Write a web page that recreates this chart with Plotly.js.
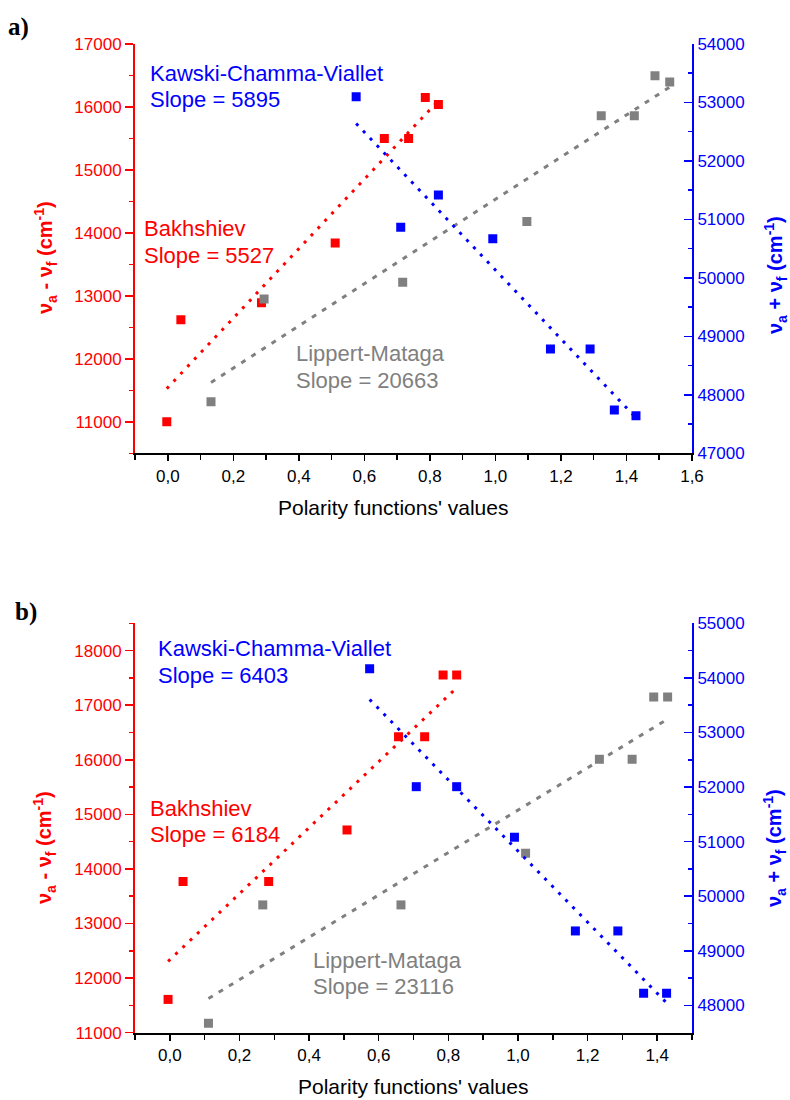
<!DOCTYPE html>
<html>
<head>
<meta charset="utf-8">
<script src="https://cdn.plot.ly/plotly-3.0.1.min.js"></script>
<style>html,body{margin:0;padding:0;background:#fff;}</style>
</head>
<body>
<div id="chart" style="width:790px;height:1100px;"></div>
<script>
// ---------- Data: panel a ----------
const aBakhshievX = [-0.003, 0.040, 0.286, 0.511, 0.661, 0.735, 0.786, 0.826];
const aBakhshievY = [11000, 12620, 12890, 13840, 15500, 15500, 16150, 16040];
const aLippertX   = [0.132, 0.294, 0.717, 1.096, 1.323, 1.424, 1.487, 1.532];
const aLippertY   = [11317, 12952, 13216, 14180, 15862, 15862, 16497, 16397];
const aKawskiX    = [0.575, 0.711, 0.826, 0.992, 1.168, 1.289, 1.363, 1.429];
const aKawskiY    = [53099, 50865, 51417, 50670, 48784, 48784, 47740, 47643];
const aSlopes     = {kawski: 5895, bakhshiev: 5527, lippert: 20663};

// ---------- Data: panel b ----------
const bBakhshievX = [-0.005, 0.038, 0.284, 0.509, 0.657, 0.732, 0.785, 0.824];
const bBakhshievY = [11610, 13770, 13770, 14714, 16423, 16423, 17553, 17553];
const bLippertX   = [0.111, 0.267, 0.664, 1.022, 1.234, 1.328, 1.390, 1.430];
const bLippertY   = [11174, 13341, 13341, 14288, 16009, 16009, 17150, 17150];
const bKawskiX    = [0.574, 0.708, 0.824, 0.990, 1.165, 1.287, 1.361, 1.427];
const bKawskiY    = [54169, 52007, 52007, 51081, 49364, 49364, 48223, 48223];
const bSlopes     = {kawski: 6403, bakhshiev: 6184, lippert: 23116};

const xTitle = "Polarity functions' values";
const leftTitle = "<b>ν<sub>a</sub> - ν<sub>f</sub> (cm<sup>-1</sup>)</b>";
const rightTitle = "<b>ν<sub>a</sub> + ν<sub>f</sub> (cm<sup>-1</sup>)</b>";

// ---------- Styles ----------
const RED = '#ff0000', BLUE = '#0000ff', GRAY = '#808080';
const FONT = 'Liberation Sans, Arial, sans-serif';
const SERIF = 'Liberation Serif, Times New Roman, serif';
const W = 790, H = 1100, ML = 135, MR = 98;
const PW = W - ML - MR;
const px = v => (v - ML) / PW;       // page pixel -> paper x
const py = v => 1 - v / H;           // page pixel -> paper y (t = b = 0)

function linFit(xs, ys) {
  const n = xs.length;
  const mx = xs.reduce((s, v) => s + v, 0) / n;
  const my = ys.reduce((s, v) => s + v, 0) / n;
  let sxy = 0, sxx = 0;
  for (let i = 0; i < n; i++) { sxy += (xs[i] - mx) * (ys[i] - my); sxx += (xs[i] - mx) ** 2; }
  const k = sxy / sxx, b = my - k * mx;
  const x0 = Math.min(...xs), x1 = Math.max(...xs);
  return {x: [x0, x1], y: [k * x0 + b, k * x1 + b]};
}

function pts(x, y, color, xa, ya, name) {
  return {type: 'scatter', mode: 'markers', x, y, xaxis: xa, yaxis: ya, name,
    marker: {symbol: 'square', size: 9, color}, showlegend: false, hoverinfo: 'x+y'};
}
function fitLine(x, y, color, xa, ya, dash) {
  const f = linFit(x, y);
  return {type: 'scatter', mode: 'lines', x: f.x, y: f.y, xaxis: xa, yaxis: ya,
    line: {color, width: 3, dash}, showlegend: false, hoverinfo: 'skip'};
}

const DOT = '3px,7px', DASH = '5px,7px';
const traces = [
  fitLine(aBakhshievX, aBakhshievY, RED, 'x', 'y', DOT),
  fitLine(aLippertX, aLippertY, GRAY, 'x', 'y', DASH),
  fitLine(aKawskiX, aKawskiY, BLUE, 'x', 'y2', DOT),
  pts(aBakhshievX, aBakhshievY, RED, 'x', 'y', 'Bakhshiev'),
  pts(aLippertX, aLippertY, GRAY, 'x', 'y', 'Lippert-Mataga'),
  pts(aKawskiX, aKawskiY, BLUE, 'x', 'y2', 'Kawski-Chamma-Viallet'),

  fitLine(bBakhshievX, bBakhshievY, RED, 'x2', 'y3', DOT),
  fitLine(bLippertX, bLippertY, GRAY, 'x2', 'y3', DASH),
  fitLine(bKawskiX, bKawskiY, BLUE, 'x2', 'y4', DOT),
  pts(bBakhshievX, bBakhshievY, RED, 'x2', 'y3', 'Bakhshiev'),
  pts(bLippertX, bLippertY, GRAY, 'x2', 'y3', 'Lippert-Mataga'),
  pts(bKawskiX, bKawskiY, BLUE, 'x2', 'y4', 'Kawski-Chamma-Viallet'),
];

function xAxis(anchor, range) {
  return {anchor, domain: [0, 1], range, tick0: 0, dtick: 0.2, tickformat: '.1f',
    ticks: 'outside', ticklen: 6, tickwidth: 1.5, tickcolor: '#000',
    minor: {ticks: 'outside', ticklen: 5, dtick: 0.1, tickwidth: 1.5, tickcolor: '#000'},
    showline: true, linecolor: '#000', linewidth: 2, showgrid: false, zeroline: false,
    tickfont: {family: FONT, size: 17, color: '#000'}, fixedrange: true};
}
function yLeft(anchor, domain, range, tick0) {
  return {anchor, domain, range, tick0, dtick: 1000, tickformat: 'd',
    ticks: 'outside', ticklen: 8, tickwidth: 1.5, tickcolor: RED,
    minor: {ticks: 'outside', ticklen: 4, dtick: 500, tickwidth: 1.5, tickcolor: RED},
    showline: true, linecolor: RED, linewidth: 2, showgrid: false, zeroline: false,
    tickfont: {family: FONT, size: 17, color: RED}, fixedrange: true};
}
function yRight(anchor, overlay, range, tick0) {
  return {anchor, overlaying: overlay, side: 'right', range, tick0, dtick: 1000, tickformat: 'd',
    ticks: 'inside', ticklen: 8, tickwidth: 1.5, tickcolor: BLUE,
    minor: {ticks: 'inside', ticklen: 4, dtick: 500, tickwidth: 1.5, tickcolor: BLUE},
    showline: true, linecolor: BLUE, linewidth: 2, showgrid: false, zeroline: false,
    tickfont: {family: FONT, size: 17, color: BLUE}, fixedrange: true};
}

function txt(text, x, y, color, size, family, opts) {
  return Object.assign({text, xref: 'paper', yref: 'paper', x: px(x), y: py(y),
    xanchor: 'left', yanchor: 'middle', showarrow: false,
    font: {family: family || FONT, size: size || 22, color}}, opts || {});
}

const annotations = [
  txt('<b>a)</b>', 6, 27, '#000', 25, SERIF),
  txt('Kawski-Chamma-Viallet', 148, 73, BLUE),
  txt('Slope = ' + aSlopes.kawski, 148, 99.5, BLUE),
  txt('Bakhshiev', 142, 228, RED),
  txt('Slope = ' + aSlopes.bakhshiev, 142, 255, RED),
  txt('Lippert-Mataga', 294, 353.5, GRAY),
  txt('Slope = ' + aSlopes.lippert, 294, 380, GRAY),
  txt(leftTitle, 45, 258, RED, 20, FONT, {textangle: -90, xanchor: 'center'}),
  txt(rightTitle, 775, 275, BLUE, 20, FONT, {textangle: -90, xanchor: 'center'}),
  txt(xTitle, 393, 507, '#000', 21, FONT, {xanchor: 'center'}),

  txt('<b>b)</b>', 13, 612, '#000', 25, SERIF),
  txt('Kawski-Chamma-Viallet', 155.5, 648.5, BLUE),
  txt('Slope = ' + bSlopes.kawski, 155.5, 675, BLUE),
  txt('Bakhshiev', 148, 808.5, RED),
  txt('Slope = ' + bSlopes.bakhshiev, 148, 835, RED),
  txt('Lippert-Mataga', 310.5, 960, GRAY),
  txt('Slope = ' + bSlopes.lippert, 310.5, 986.5, GRAY),
  txt(leftTitle, 44, 848, RED, 20, FONT, {textangle: -90, xanchor: 'center'}),
  txt(rightTitle, 774, 848, BLUE, 20, FONT, {textangle: -90, xanchor: 'center'}),
  txt(xTitle, 412.5, 1086.5, '#000', 21, FONT, {xanchor: 'center'}),
];

const layout = {
  width: W, height: H,
  margin: {l: ML, r: MR, t: 0, b: 0, pad: 0},
  paper_bgcolor: '#fff', plot_bgcolor: '#fff',
  separators: ', ',
  showlegend: false,
  font: {family: FONT, color: '#000'},
  xaxis: xAxis('y', [-0.1, 1.6]),
  yaxis: yLeft('x', [py(453.3), py(44)], [10500, 17000], 11000),
  yaxis2: yRight('x', 'y', [47000, 54000], 47000),
  xaxis2: xAxis('y3', [-0.1, 1.5]),
  yaxis3: yLeft('x2', [py(1032.7), py(623.3)], [11000, 18500], 11000),
  yaxis4: yRight('x2', 'y3', [47500, 55000], 48000),
  annotations,
};

Plotly.newPlot('chart', traces, layout, {displayModeBar: false, staticPlot: true});
</script>
</body>
</html>
